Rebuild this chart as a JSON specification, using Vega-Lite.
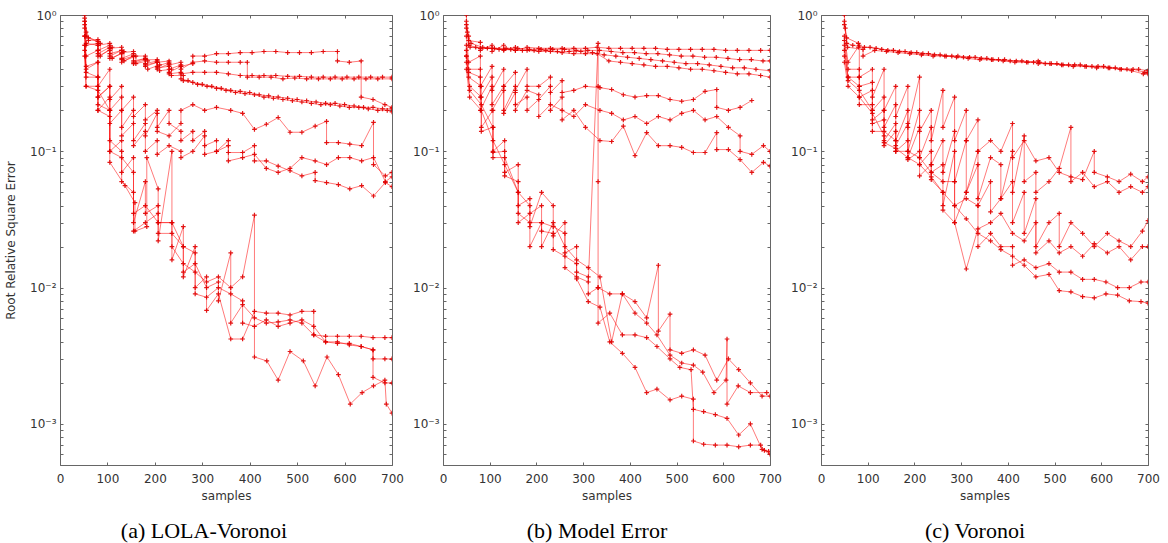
{
"$schema": "https://vega.github.io/schema/vega-lite/v6.json",
"padding": {"left": 4, "top": 8, "right": 4, "bottom": 2},
"spacing": 8,
"config": {
  "view": {"stroke": "#666", "strokeWidth": 1},
  "axis": {"grid": false, "domain": false, "tickColor": "#666", "tickSize": -3, "labelFont": "DejaVu Sans", "labelFontSize": 12, "labelColor": "#333", "titleFont": "DejaVu Sans", "titleFontSize": 12, "titleFontWeight": "normal", "titleColor": "#333"},
  "title": {"font": "Liberation Serif", "fontSize": 22, "fontWeight": "normal", "color": "#000"}
},
"datasets": {
"a": [
{"r":1,"x":52,"y":1},{"r":1,"x":55,"y":0.75},{"r":1,"x":60,"y":0.65},{"r":1,"x":80,"y":0.66},{"r":1,"x":80,"y":0.6},{"r":1,"x":105,"y":0.62},{"r":1,"x":105,"y":0.57},{"r":1,"x":130,"y":0.58},{"r":1,"x":130,"y":0.53},{"r":1,"x":155,"y":0.54},{"r":1,"x":155,"y":0.5},{"r":1,"x":180,"y":0.5},{"r":1,"x":180,"y":0.47},{"r":1,"x":205,"y":0.47},{"r":1,"x":205,"y":0.45},{"r":1,"x":230,"y":0.46},{"r":1,"x":230,"y":0.43},{"r":1,"x":255,"y":0.45},{"r":1,"x":255,"y":0.42},{"r":1,"x":280,"y":0.44},{"r":1,"x":280,"y":0.5},{"r":1,"x":305,"y":0.5},{"r":1,"x":330,"y":0.52},{"r":1,"x":355,"y":0.52},{"r":1,"x":380,"y":0.53},{"r":1,"x":405,"y":0.53},{"r":1,"x":430,"y":0.54},{"r":1,"x":455,"y":0.54},{"r":1,"x":480,"y":0.53},{"r":1,"x":505,"y":0.53},{"r":1,"x":530,"y":0.53},{"r":1,"x":555,"y":0.54},{"r":1,"x":585,"y":0.54},{"r":1,"x":585,"y":0.46},{"r":1,"x":610,"y":0.45},{"r":1,"x":635,"y":0.46},{"r":1,"x":635,"y":0.25},{"r":1,"x":660,"y":0.24},{"r":1,"x":685,"y":0.22},{"r":1,"x":700,"y":0.21},
{"r":2,"x":52,"y":0.9},{"r":2,"x":55,"y":0.62},{"r":2,"x":80,"y":0.6},{"r":2,"x":80,"y":0.5},{"r":2,"x":105,"y":0.55},{"r":2,"x":105,"y":0.48},{"r":2,"x":130,"y":0.52},{"r":2,"x":130,"y":0.45},{"r":2,"x":155,"y":0.5},{"r":2,"x":155,"y":0.44},{"r":2,"x":180,"y":0.47},{"r":2,"x":180,"y":0.42},{"r":2,"x":205,"y":0.45},{"r":2,"x":205,"y":0.4},{"r":2,"x":230,"y":0.44},{"r":2,"x":230,"y":0.38},{"r":2,"x":255,"y":0.42},{"r":2,"x":255,"y":0.37},{"r":2,"x":280,"y":0.38},{"r":2,"x":305,"y":0.38},{"r":2,"x":330,"y":0.38},{"r":2,"x":355,"y":0.37},{"r":2,"x":380,"y":0.36},{"r":2,"x":405,"y":0.36},{"r":2,"x":430,"y":0.36},{"r":2,"x":455,"y":0.36},{"r":2,"x":480,"y":0.355},{"r":2,"x":505,"y":0.355},{"r":2,"x":530,"y":0.35},{"r":2,"x":555,"y":0.35},{"r":2,"x":580,"y":0.35},{"r":2,"x":605,"y":0.35},{"r":2,"x":630,"y":0.35},{"r":2,"x":655,"y":0.35},{"r":2,"x":680,"y":0.35},{"r":2,"x":700,"y":0.35},
{"r":3,"x":52,"y":0.85},{"r":3,"x":55,"y":0.6},{"r":3,"x":80,"y":0.62},{"r":3,"x":80,"y":0.52},{"r":3,"x":105,"y":0.58},{"r":3,"x":105,"y":0.5},{"r":3,"x":130,"y":0.55},{"r":3,"x":130,"y":0.47},{"r":3,"x":155,"y":0.5},{"r":3,"x":155,"y":0.45},{"r":3,"x":180,"y":0.48},{"r":3,"x":180,"y":0.44},{"r":3,"x":205,"y":0.46},{"r":3,"x":205,"y":0.42},{"r":3,"x":230,"y":0.45},{"r":3,"x":230,"y":0.4},{"r":3,"x":255,"y":0.43},{"r":3,"x":255,"y":0.4},{"r":3,"x":280,"y":0.45},{"r":3,"x":305,"y":0.46},{"r":3,"x":330,"y":0.45},{"r":3,"x":355,"y":0.45},{"r":3,"x":380,"y":0.45},{"r":3,"x":395,"y":0.45},{"r":3,"x":395,"y":0.35},{"r":3,"x":420,"y":0.35},{"r":3,"x":445,"y":0.35},{"r":3,"x":470,"y":0.34},{"r":3,"x":495,"y":0.345},{"r":3,"x":520,"y":0.34},{"r":3,"x":545,"y":0.34},{"r":3,"x":570,"y":0.34},{"r":3,"x":595,"y":0.34},{"r":3,"x":620,"y":0.34},{"r":3,"x":645,"y":0.34},{"r":3,"x":670,"y":0.34},{"r":3,"x":700,"y":0.34},
{"r":4,"x":52,"y":0.95},{"r":4,"x":55,"y":0.7},{"r":4,"x":80,"y":0.64},{"r":4,"x":80,"y":0.55},{"r":4,"x":105,"y":0.6},{"r":4,"x":105,"y":0.52},{"r":4,"x":130,"y":0.55},{"r":4,"x":130,"y":0.48},{"r":4,"x":155,"y":0.52},{"r":4,"x":155,"y":0.46},{"r":4,"x":180,"y":0.48},{"r":4,"x":180,"y":0.43},{"r":4,"x":205,"y":0.45},{"r":4,"x":205,"y":0.41},{"r":4,"x":230,"y":0.42},{"r":4,"x":230,"y":0.37},{"r":4,"x":255,"y":0.38},{"r":4,"x":255,"y":0.34},{"r":4,"x":270,"y":0.33},{"r":4,"x":290,"y":0.31},{"r":4,"x":310,"y":0.3},{"r":4,"x":330,"y":0.29},{"r":4,"x":350,"y":0.28},{"r":4,"x":370,"y":0.27},{"r":4,"x":390,"y":0.265},{"r":4,"x":410,"y":0.26},{"r":4,"x":430,"y":0.25},{"r":4,"x":450,"y":0.245},{"r":4,"x":470,"y":0.24},{"r":4,"x":490,"y":0.235},{"r":4,"x":510,"y":0.23},{"r":4,"x":530,"y":0.225},{"r":4,"x":550,"y":0.22},{"r":4,"x":570,"y":0.22},{"r":4,"x":590,"y":0.215},{"r":4,"x":610,"y":0.21},{"r":4,"x":630,"y":0.21},{"r":4,"x":650,"y":0.205},{"r":4,"x":670,"y":0.2},{"r":4,"x":690,"y":0.2},{"r":4,"x":700,"y":0.195},
{"r":5,"x":52,"y":0.9},{"r":5,"x":60,"y":0.68},{"r":5,"x":85,"y":0.62},{"r":5,"x":85,"y":0.5},{"r":5,"x":110,"y":0.58},{"r":5,"x":110,"y":0.48},{"r":5,"x":135,"y":0.54},{"r":5,"x":135,"y":0.46},{"r":5,"x":160,"y":0.5},{"r":5,"x":160,"y":0.44},{"r":5,"x":185,"y":0.46},{"r":5,"x":185,"y":0.4},{"r":5,"x":210,"y":0.43},{"r":5,"x":210,"y":0.39},{"r":5,"x":235,"y":0.4},{"r":5,"x":235,"y":0.36},{"r":5,"x":260,"y":0.36},{"r":5,"x":260,"y":0.33},{"r":5,"x":280,"y":0.32},{"r":5,"x":300,"y":0.31},{"r":5,"x":320,"y":0.3},{"r":5,"x":340,"y":0.29},{"r":5,"x":360,"y":0.28},{"r":5,"x":380,"y":0.275},{"r":5,"x":400,"y":0.27},{"r":5,"x":420,"y":0.26},{"r":5,"x":440,"y":0.255},{"r":5,"x":460,"y":0.25},{"r":5,"x":480,"y":0.245},{"r":5,"x":500,"y":0.24},{"r":5,"x":520,"y":0.235},{"r":5,"x":540,"y":0.23},{"r":5,"x":560,"y":0.225},{"r":5,"x":580,"y":0.225},{"r":5,"x":600,"y":0.22},{"r":5,"x":620,"y":0.215},{"r":5,"x":640,"y":0.21},{"r":5,"x":660,"y":0.21},{"r":5,"x":680,"y":0.205},{"r":5,"x":700,"y":0.205},
{"r":6,"x":52,"y":0.8},{"r":6,"x":55,"y":0.5},{"r":6,"x":80,"y":0.55},{"r":6,"x":80,"y":0.3},{"r":6,"x":105,"y":0.4},{"r":6,"x":105,"y":0.24},{"r":6,"x":130,"y":0.3},{"r":6,"x":130,"y":0.2},{"r":6,"x":155,"y":0.25},{"r":6,"x":155,"y":0.18},{"r":6,"x":180,"y":0.22},{"r":6,"x":180,"y":0.17},{"r":6,"x":205,"y":0.2},{"r":6,"x":205,"y":0.14},{"r":6,"x":230,"y":0.13},{"r":6,"x":255,"y":0.16},{"r":6,"x":255,"y":0.2},{"r":6,"x":280,"y":0.22},{"r":6,"x":305,"y":0.2},{"r":6,"x":330,"y":0.21},{"r":6,"x":360,"y":0.2},{"r":6,"x":385,"y":0.19},{"r":6,"x":410,"y":0.145},{"r":6,"x":435,"y":0.158},{"r":6,"x":460,"y":0.177},{"r":6,"x":485,"y":0.138},{"r":6,"x":510,"y":0.138},{"r":6,"x":538,"y":0.153},{"r":6,"x":562,"y":0.166},{"r":6,"x":562,"y":0.116},{"r":6,"x":587,"y":0.116},{"r":6,"x":611,"y":0.113},{"r":6,"x":636,"y":0.11},{"r":6,"x":661,"y":0.163},{"r":6,"x":661,"y":0.08},{"r":6,"x":686,"y":0.066},{"r":6,"x":700,"y":0.07},
{"r":7,"x":52,"y":0.7},{"r":7,"x":55,"y":0.42},{"r":7,"x":80,"y":0.45},{"r":7,"x":80,"y":0.25},{"r":7,"x":105,"y":0.3},{"r":7,"x":105,"y":0.2},{"r":7,"x":130,"y":0.25},{"r":7,"x":130,"y":0.15},{"r":7,"x":155,"y":0.2},{"r":7,"x":155,"y":0.12},{"r":7,"x":180,"y":0.16},{"r":7,"x":180,"y":0.13},{"r":7,"x":205,"y":0.19},{"r":7,"x":205,"y":0.15},{"r":7,"x":230,"y":0.2},{"r":7,"x":230,"y":0.16},{"r":7,"x":255,"y":0.14},{"r":7,"x":255,"y":0.12},{"r":7,"x":280,"y":0.14},{"r":7,"x":280,"y":0.12},{"r":7,"x":305,"y":0.14},{"r":7,"x":305,"y":0.11},{"r":7,"x":330,"y":0.12},{"r":7,"x":330,"y":0.1},{"r":7,"x":355,"y":0.11},{"r":7,"x":355,"y":0.098},{"r":7,"x":385,"y":0.098},{"r":7,"x":410,"y":0.11},{"r":7,"x":410,"y":0.085},{"r":7,"x":435,"y":0.085},{"r":7,"x":460,"y":0.078},{"r":7,"x":485,"y":0.072},{"r":7,"x":510,"y":0.066},{"r":7,"x":538,"y":0.07},{"r":7,"x":538,"y":0.061},{"r":7,"x":562,"y":0.059},{"r":7,"x":587,"y":0.057},{"r":7,"x":611,"y":0.053},{"r":7,"x":636,"y":0.056},{"r":7,"x":661,"y":0.047},{"r":7,"x":686,"y":0.059},{"r":7,"x":700,"y":0.055},
{"r":8,"x":52,"y":0.6},{"r":8,"x":55,"y":0.38},{"r":8,"x":80,"y":0.35},{"r":8,"x":80,"y":0.2},{"r":8,"x":105,"y":0.25},{"r":8,"x":105,"y":0.16},{"r":8,"x":130,"y":0.2},{"r":8,"x":130,"y":0.13},{"r":8,"x":155,"y":0.16},{"r":8,"x":155,"y":0.11},{"r":8,"x":180,"y":0.14},{"r":8,"x":180,"y":0.1},{"r":8,"x":205,"y":0.12},{"r":8,"x":205,"y":0.095},{"r":8,"x":230,"y":0.11},{"r":8,"x":255,"y":0.1},{"r":8,"x":255,"y":0.09},{"r":8,"x":280,"y":0.1},{"r":8,"x":305,"y":0.13},{"r":8,"x":305,"y":0.095},{"r":8,"x":330,"y":0.1},{"r":8,"x":355,"y":0.12},{"r":8,"x":355,"y":0.085},{"r":8,"x":385,"y":0.09},{"r":8,"x":410,"y":0.095},{"r":8,"x":435,"y":0.075},{"r":8,"x":460,"y":0.07},{"r":8,"x":485,"y":0.075},{"r":8,"x":510,"y":0.09},{"r":8,"x":538,"y":0.085},{"r":8,"x":562,"y":0.08},{"r":8,"x":587,"y":0.09},{"r":8,"x":611,"y":0.09},{"r":8,"x":636,"y":0.085},{"r":8,"x":661,"y":0.09},{"r":8,"x":686,"y":0.06},{"r":8,"x":700,"y":0.065},
{"r":9,"x":52,"y":0.7},{"r":9,"x":55,"y":0.4},{"r":9,"x":80,"y":0.45},{"r":9,"x":80,"y":0.25},{"r":9,"x":105,"y":0.3},{"r":9,"x":105,"y":0.083},{"r":9,"x":137,"y":0.056},{"r":9,"x":158,"y":0.042},{"r":9,"x":158,"y":0.026},{"r":9,"x":183,"y":0.028},{"r":9,"x":183,"y":0.09},{"r":9,"x":207,"y":0.053},{"r":9,"x":207,"y":0.03},{"r":9,"x":236,"y":0.03},{"r":9,"x":236,"y":0.016},{"r":9,"x":260,"y":0.028},{"r":9,"x":260,"y":0.012},{"r":9,"x":285,"y":0.02},{"r":9,"x":285,"y":0.01},{"r":9,"x":309,"y":0.012},{"r":9,"x":309,"y":0.0068},{"r":9,"x":334,"y":0.009},{"r":9,"x":360,"y":0.0042},{"r":9,"x":385,"y":0.0042},{"r":9,"x":410,"y":0.0067},{"r":9,"x":435,"y":0.0065},{"r":9,"x":460,"y":0.0065},{"r":9,"x":485,"y":0.0063},{"r":9,"x":510,"y":0.0067},{"r":9,"x":535,"y":0.0067},{"r":9,"x":535,"y":0.0045},{"r":9,"x":560,"y":0.0044},{"r":9,"x":585,"y":0.0044},{"r":9,"x":610,"y":0.0044},{"r":9,"x":635,"y":0.0044},{"r":9,"x":660,"y":0.0043},{"r":9,"x":685,"y":0.0043},{"r":9,"x":700,"y":0.0043},
{"r":10,"x":52,"y":0.6},{"r":10,"x":55,"y":0.35},{"r":10,"x":80,"y":0.35},{"r":10,"x":80,"y":0.22},{"r":10,"x":105,"y":0.2},{"r":10,"x":105,"y":0.1},{"r":10,"x":130,"y":0.12},{"r":10,"x":130,"y":0.07},{"r":10,"x":155,"y":0.09},{"r":10,"x":155,"y":0.03},{"r":10,"x":180,"y":0.06},{"r":10,"x":180,"y":0.035},{"r":10,"x":207,"y":0.04},{"r":10,"x":207,"y":0.022},{"r":10,"x":236,"y":0.1},{"r":10,"x":236,"y":0.02},{"r":10,"x":260,"y":0.015},{"r":10,"x":285,"y":0.013},{"r":10,"x":309,"y":0.011},{"r":10,"x":334,"y":0.012},{"r":10,"x":360,"y":0.01},{"r":10,"x":385,"y":0.012},{"r":10,"x":410,"y":0.034},{"r":10,"x":410,"y":0.0031},{"r":10,"x":436,"y":0.0029},{"r":10,"x":460,"y":0.0021},{"r":10,"x":485,"y":0.0034},{"r":10,"x":513,"y":0.0029},{"r":10,"x":538,"y":0.0019},{"r":10,"x":563,"y":0.0031},{"r":10,"x":587,"y":0.0023},{"r":10,"x":612,"y":0.0014},{"r":10,"x":637,"y":0.0017},{"r":10,"x":661,"y":0.0019},{"r":10,"x":685,"y":0.0021},{"r":10,"x":688,"y":0.0014},{"r":10,"x":700,"y":0.0012},
{"r":11,"x":52,"y":0.55},{"r":11,"x":55,"y":0.3},{"r":11,"x":80,"y":0.3},{"r":11,"x":80,"y":0.2},{"r":11,"x":105,"y":0.18},{"r":11,"x":105,"y":0.12},{"r":11,"x":130,"y":0.1},{"r":11,"x":130,"y":0.06},{"r":11,"x":155,"y":0.05},{"r":11,"x":155,"y":0.026},{"r":11,"x":180,"y":0.03},{"r":11,"x":207,"y":0.035},{"r":11,"x":207,"y":0.025},{"r":11,"x":236,"y":0.025},{"r":11,"x":260,"y":0.02},{"r":11,"x":260,"y":0.013},{"r":11,"x":285,"y":0.015},{"r":11,"x":309,"y":0.01},{"r":11,"x":334,"y":0.011},{"r":11,"x":334,"y":0.008},{"r":11,"x":360,"y":0.018},{"r":11,"x":360,"y":0.0055},{"r":11,"x":385,"y":0.0075},{"r":11,"x":410,"y":0.006},{"r":11,"x":435,"y":0.0055},{"r":11,"x":460,"y":0.0056},{"r":11,"x":485,"y":0.0058},{"r":11,"x":510,"y":0.0055},{"r":11,"x":535,"y":0.0045},{"r":11,"x":560,"y":0.004},{"r":11,"x":585,"y":0.004},{"r":11,"x":610,"y":0.0038},{"r":11,"x":635,"y":0.0037},{"r":11,"x":660,"y":0.0035},{"r":11,"x":660,"y":0.003},{"r":11,"x":685,"y":0.003},{"r":11,"x":700,"y":0.003},
{"r":12,"x":52,"y":0.5},{"r":12,"x":55,"y":0.3},{"r":12,"x":80,"y":0.28},{"r":12,"x":105,"y":0.2},{"r":12,"x":105,"y":0.1},{"r":12,"x":130,"y":0.09},{"r":12,"x":155,"y":0.07},{"r":12,"x":155,"y":0.035},{"r":12,"x":180,"y":0.04},{"r":12,"x":207,"y":0.03},{"r":12,"x":236,"y":0.03},{"r":12,"x":260,"y":0.02},{"r":12,"x":285,"y":0.018},{"r":12,"x":285,"y":0.009},{"r":12,"x":309,"y":0.0085},{"r":12,"x":334,"y":0.01},{"r":12,"x":360,"y":0.009},{"r":12,"x":385,"y":0.008},{"r":12,"x":385,"y":0.0055},{"r":12,"x":410,"y":0.0052},{"r":12,"x":435,"y":0.0058},{"r":12,"x":460,"y":0.0052},{"r":12,"x":485,"y":0.0055},{"r":12,"x":510,"y":0.0058},{"r":12,"x":535,"y":0.0052},{"r":12,"x":560,"y":0.004},{"r":12,"x":585,"y":0.0039},{"r":12,"x":610,"y":0.0039},{"r":12,"x":635,"y":0.0037},{"r":12,"x":660,"y":0.0035},{"r":12,"x":660,"y":0.0022},{"r":12,"x":685,"y":0.002},{"r":12,"x":700,"y":0.002}
],
"b": [
{"r":1,"x":50,"y":1},{"r":1,"x":52,"y":0.75},{"r":1,"x":55,"y":0.65},{"r":1,"x":80,"y":0.63},{"r":1,"x":80,"y":0.55},{"r":1,"x":105,"y":0.6},{"r":1,"x":105,"y":0.54},{"r":1,"x":130,"y":0.6},{"r":1,"x":130,"y":0.55},{"r":1,"x":155,"y":0.58},{"r":1,"x":155,"y":0.55},{"r":1,"x":180,"y":0.58},{"r":1,"x":205,"y":0.57},{"r":1,"x":230,"y":0.57},{"r":1,"x":255,"y":0.57},{"r":1,"x":280,"y":0.57},{"r":1,"x":305,"y":0.57},{"r":1,"x":330,"y":0.58},{"r":1,"x":355,"y":0.57},{"r":1,"x":380,"y":0.57},{"r":1,"x":405,"y":0.57},{"r":1,"x":430,"y":0.57},{"r":1,"x":455,"y":0.57},{"r":1,"x":480,"y":0.56},{"r":1,"x":505,"y":0.56},{"r":1,"x":530,"y":0.56},{"r":1,"x":555,"y":0.56},{"r":1,"x":580,"y":0.56},{"r":1,"x":605,"y":0.55},{"r":1,"x":630,"y":0.55},{"r":1,"x":655,"y":0.55},{"r":1,"x":680,"y":0.55},{"r":1,"x":700,"y":0.55},
{"r":2,"x":50,"y":0.9},{"r":2,"x":55,"y":0.7},{"r":2,"x":60,"y":0.62},{"r":2,"x":85,"y":0.58},{"r":2,"x":110,"y":0.57},{"r":2,"x":135,"y":0.57},{"r":2,"x":160,"y":0.57},{"r":2,"x":185,"y":0.56},{"r":2,"x":210,"y":0.56},{"r":2,"x":235,"y":0.56},{"r":2,"x":260,"y":0.56},{"r":2,"x":285,"y":0.55},{"r":2,"x":310,"y":0.55},{"r":2,"x":335,"y":0.55},{"r":2,"x":360,"y":0.54},{"r":2,"x":385,"y":0.53},{"r":2,"x":410,"y":0.53},{"r":2,"x":435,"y":0.52},{"r":2,"x":460,"y":0.52},{"r":2,"x":485,"y":0.51},{"r":2,"x":510,"y":0.5},{"r":2,"x":535,"y":0.5},{"r":2,"x":560,"y":0.49},{"r":2,"x":585,"y":0.49},{"r":2,"x":610,"y":0.48},{"r":2,"x":635,"y":0.47},{"r":2,"x":660,"y":0.47},{"r":2,"x":685,"y":0.46},{"r":2,"x":700,"y":0.46},
{"r":3,"x":50,"y":0.85},{"r":3,"x":55,"y":0.6},{"r":3,"x":70,"y":0.58},{"r":3,"x":95,"y":0.57},{"r":3,"x":120,"y":0.56},{"r":3,"x":145,"y":0.56},{"r":3,"x":170,"y":0.55},{"r":3,"x":195,"y":0.55},{"r":3,"x":220,"y":0.55},{"r":3,"x":245,"y":0.54},{"r":3,"x":270,"y":0.54},{"r":3,"x":295,"y":0.54},{"r":3,"x":320,"y":0.53},{"r":3,"x":345,"y":0.51},{"r":3,"x":370,"y":0.5},{"r":3,"x":395,"y":0.49},{"r":3,"x":420,"y":0.48},{"r":3,"x":445,"y":0.47},{"r":3,"x":470,"y":0.46},{"r":3,"x":495,"y":0.45},{"r":3,"x":520,"y":0.44},{"r":3,"x":545,"y":0.44},{"r":3,"x":570,"y":0.43},{"r":3,"x":595,"y":0.42},{"r":3,"x":620,"y":0.41},{"r":3,"x":645,"y":0.41},{"r":3,"x":670,"y":0.4},{"r":3,"x":700,"y":0.39},
{"r":4,"x":50,"y":0.8},{"r":4,"x":58,"y":0.58},{"r":4,"x":80,"y":0.57},{"r":4,"x":105,"y":0.57},{"r":4,"x":130,"y":0.56},{"r":4,"x":155,"y":0.55},{"r":4,"x":180,"y":0.55},{"r":4,"x":205,"y":0.54},{"r":4,"x":230,"y":0.54},{"r":4,"x":255,"y":0.53},{"r":4,"x":280,"y":0.52},{"r":4,"x":305,"y":0.52},{"r":4,"x":330,"y":0.52},{"r":4,"x":355,"y":0.46},{"r":4,"x":380,"y":0.45},{"r":4,"x":405,"y":0.44},{"r":4,"x":430,"y":0.43},{"r":4,"x":455,"y":0.42},{"r":4,"x":480,"y":0.42},{"r":4,"x":505,"y":0.41},{"r":4,"x":530,"y":0.4},{"r":4,"x":555,"y":0.4},{"r":4,"x":580,"y":0.39},{"r":4,"x":605,"y":0.38},{"r":4,"x":630,"y":0.37},{"r":4,"x":655,"y":0.37},{"r":4,"x":680,"y":0.36},{"r":4,"x":700,"y":0.35},
{"r":5,"x":50,"y":0.7},{"r":5,"x":55,"y":0.45},{"r":5,"x":80,"y":0.5},{"r":5,"x":80,"y":0.3},{"r":5,"x":105,"y":0.42},{"r":5,"x":105,"y":0.28},{"r":5,"x":130,"y":0.4},{"r":5,"x":130,"y":0.3},{"r":5,"x":155,"y":0.38},{"r":5,"x":155,"y":0.28},{"r":5,"x":180,"y":0.4},{"r":5,"x":180,"y":0.3},{"r":5,"x":205,"y":0.3},{"r":5,"x":230,"y":0.35},{"r":5,"x":230,"y":0.27},{"r":5,"x":255,"y":0.33},{"r":5,"x":255,"y":0.27},{"r":5,"x":280,"y":0.28},{"r":5,"x":305,"y":0.3},{"r":5,"x":336,"y":0.293},{"r":5,"x":361,"y":0.284},{"r":5,"x":386,"y":0.26},{"r":5,"x":411,"y":0.25},{"r":5,"x":436,"y":0.256},{"r":5,"x":461,"y":0.256},{"r":5,"x":486,"y":0.24},{"r":5,"x":511,"y":0.233},{"r":5,"x":536,"y":0.24},{"r":5,"x":561,"y":0.275},{"r":5,"x":586,"y":0.284},{"r":5,"x":586,"y":0.21},{"r":5,"x":611,"y":0.2},{"r":5,"x":636,"y":0.21},{"r":5,"x":661,"y":0.236},
{"r":6,"x":50,"y":0.6},{"r":6,"x":55,"y":0.4},{"r":6,"x":80,"y":0.4},{"r":6,"x":80,"y":0.25},{"r":6,"x":105,"y":0.35},{"r":6,"x":105,"y":0.22},{"r":6,"x":130,"y":0.3},{"r":6,"x":130,"y":0.2},{"r":6,"x":155,"y":0.3},{"r":6,"x":155,"y":0.22},{"r":6,"x":180,"y":0.25},{"r":6,"x":180,"y":0.2},{"r":6,"x":205,"y":0.24},{"r":6,"x":230,"y":0.3},{"r":6,"x":230,"y":0.2},{"r":6,"x":255,"y":0.25},{"r":6,"x":255,"y":0.17},{"r":6,"x":280,"y":0.2},{"r":6,"x":305,"y":0.15},{"r":6,"x":336,"y":0.12},{"r":6,"x":361,"y":0.118},{"r":6,"x":386,"y":0.153},{"r":6,"x":411,"y":0.093},{"r":6,"x":436,"y":0.137},{"r":6,"x":461,"y":0.11},{"r":6,"x":486,"y":0.11},{"r":6,"x":511,"y":0.107},{"r":6,"x":536,"y":0.098},{"r":6,"x":561,"y":0.098},{"r":6,"x":586,"y":0.137},{"r":6,"x":586,"y":0.103},{"r":6,"x":611,"y":0.103},{"r":6,"x":636,"y":0.087},{"r":6,"x":661,"y":0.07},{"r":6,"x":686,"y":0.083},{"r":6,"x":700,"y":0.078},
{"r":7,"x":50,"y":0.55},{"r":7,"x":55,"y":0.38},{"r":7,"x":80,"y":0.35},{"r":7,"x":80,"y":0.2},{"r":7,"x":105,"y":0.3},{"r":7,"x":105,"y":0.2},{"r":7,"x":130,"y":0.28},{"r":7,"x":130,"y":0.19},{"r":7,"x":155,"y":0.27},{"r":7,"x":155,"y":0.2},{"r":7,"x":180,"y":0.28},{"r":7,"x":205,"y":0.26},{"r":7,"x":205,"y":0.18},{"r":7,"x":230,"y":0.22},{"r":7,"x":255,"y":0.2},{"r":7,"x":280,"y":0.18},{"r":7,"x":305,"y":0.22},{"r":7,"x":336,"y":0.2},{"r":7,"x":361,"y":0.19},{"r":7,"x":386,"y":0.17},{"r":7,"x":411,"y":0.18},{"r":7,"x":436,"y":0.16},{"r":7,"x":461,"y":0.18},{"r":7,"x":486,"y":0.17},{"r":7,"x":511,"y":0.19},{"r":7,"x":536,"y":0.2},{"r":7,"x":561,"y":0.17},{"r":7,"x":586,"y":0.18},{"r":7,"x":611,"y":0.15},{"r":7,"x":636,"y":0.13},{"r":7,"x":636,"y":0.1},{"r":7,"x":661,"y":0.095},{"r":7,"x":686,"y":0.11},{"r":7,"x":700,"y":0.1},
{"r":8,"x":50,"y":0.5},{"r":8,"x":55,"y":0.35},{"r":8,"x":82,"y":0.3},{"r":8,"x":82,"y":0.15},{"r":8,"x":107,"y":0.2},{"r":8,"x":107,"y":0.098},{"r":8,"x":132,"y":0.1},{"r":8,"x":132,"y":0.066},{"r":8,"x":161,"y":0.06},{"r":8,"x":161,"y":0.03},{"r":8,"x":186,"y":0.035},{"r":8,"x":211,"y":0.04},{"r":8,"x":211,"y":0.026},{"r":8,"x":236,"y":0.025},{"r":8,"x":236,"y":0.019},{"r":8,"x":261,"y":0.017},{"r":8,"x":286,"y":0.015},{"r":8,"x":286,"y":0.0116},{"r":8,"x":311,"y":0.0079},{"r":8,"x":336,"y":0.0072},{"r":8,"x":357,"y":0.004},{"r":8,"x":384,"y":0.0033},{"r":8,"x":411,"y":0.0026},{"r":8,"x":436,"y":0.0017},{"r":8,"x":458,"y":0.0018},{"r":8,"x":486,"y":0.0015},{"r":8,"x":511,"y":0.0016},{"r":8,"x":536,"y":0.00152},{"r":8,"x":536,"y":0.00075},{"r":8,"x":558,"y":0.00071},{"r":8,"x":583,"y":0.0007},{"r":8,"x":608,"y":0.0007},{"r":8,"x":633,"y":0.00068},{"r":8,"x":658,"y":0.0007},{"r":8,"x":680,"y":0.0007},{"r":8,"x":688,"y":0.00064},{"r":8,"x":697,"y":0.00063},
{"r":9,"x":50,"y":0.5},{"r":9,"x":57,"y":0.3},{"r":9,"x":82,"y":0.25},{"r":9,"x":82,"y":0.14},{"r":9,"x":107,"y":0.15},{"r":9,"x":107,"y":0.1},{"r":9,"x":132,"y":0.12},{"r":9,"x":132,"y":0.07},{"r":9,"x":161,"y":0.08},{"r":9,"x":161,"y":0.04},{"r":9,"x":186,"y":0.045},{"r":9,"x":186,"y":0.028},{"r":9,"x":211,"y":0.05},{"r":9,"x":236,"y":0.04},{"r":9,"x":236,"y":0.024},{"r":9,"x":261,"y":0.03},{"r":9,"x":261,"y":0.018},{"r":9,"x":286,"y":0.02},{"r":9,"x":286,"y":0.013},{"r":9,"x":311,"y":0.012},{"r":9,"x":311,"y":0.009},{"r":9,"x":332,"y":0.01},{"r":9,"x":332,"y":0.0055},{"r":9,"x":357,"y":0.0065},{"r":9,"x":384,"y":0.0045},{"r":9,"x":411,"y":0.0045},{"r":9,"x":436,"y":0.0043},{"r":9,"x":458,"y":0.0037},{"r":9,"x":486,"y":0.003},{"r":9,"x":507,"y":0.0026},{"r":9,"x":531,"y":0.0025},{"r":9,"x":536,"y":0.00128},{"r":9,"x":558,"y":0.00123},{"r":9,"x":583,"y":0.00117},{"r":9,"x":608,"y":0.0011},{"r":9,"x":633,"y":0.00083},{"r":9,"x":658,"y":0.001},{"r":9,"x":683,"y":0.00065},{"r":9,"x":700,"y":0.0006},
{"r":10,"x":50,"y":0.45},{"r":10,"x":57,"y":0.28},{"r":10,"x":82,"y":0.22},{"r":10,"x":107,"y":0.15},{"r":10,"x":107,"y":0.09},{"r":10,"x":132,"y":0.09},{"r":10,"x":161,"y":0.05},{"r":10,"x":161,"y":0.035},{"r":10,"x":186,"y":0.03},{"r":10,"x":211,"y":0.03},{"r":10,"x":236,"y":0.028},{"r":10,"x":261,"y":0.025},{"r":10,"x":261,"y":0.014},{"r":10,"x":286,"y":0.012},{"r":10,"x":311,"y":0.011},{"r":10,"x":332,"y":0.62},{"r":10,"x":332,"y":0.3},{"r":10,"x":332,"y":0.06},{"r":10,"x":332,"y":0.01},{"r":10,"x":357,"y":0.009},{"r":10,"x":384,"y":0.009},{"r":10,"x":411,"y":0.0065},{"r":10,"x":436,"y":0.0055},{"r":10,"x":458,"y":0.0045},{"r":10,"x":486,"y":0.0032},{"r":10,"x":511,"y":0.0028},{"r":10,"x":536,"y":0.0027},{"r":10,"x":556,"y":0.0024},{"r":10,"x":580,"y":0.0017},{"r":10,"x":606,"y":0.0021},{"r":10,"x":608,"y":0.0042},{"r":10,"x":608,"y":0.0014},{"r":10,"x":632,"y":0.0019},{"r":10,"x":658,"y":0.0017},{"r":10,"x":693,"y":0.0017},
{"r":11,"x":50,"y":0.4},{"r":11,"x":57,"y":0.25},{"r":11,"x":82,"y":0.2},{"r":11,"x":107,"y":0.12},{"r":11,"x":132,"y":0.08},{"r":11,"x":161,"y":0.05},{"r":11,"x":186,"y":0.04},{"r":11,"x":186,"y":0.02},{"r":11,"x":211,"y":0.03},{"r":11,"x":211,"y":0.02},{"r":11,"x":236,"y":0.03},{"r":11,"x":261,"y":0.02},{"r":11,"x":286,"y":0.016},{"r":11,"x":311,"y":0.014},{"r":11,"x":336,"y":0.012},{"r":11,"x":361,"y":0.004},{"r":11,"x":384,"y":0.009},{"r":11,"x":411,"y":0.0079},{"r":11,"x":436,"y":0.006},{"r":11,"x":461,"y":0.0146},{"r":11,"x":461,"y":0.0048},{"r":11,"x":486,"y":0.0064},{"r":11,"x":486,"y":0.0035},{"r":11,"x":511,"y":0.0033},{"r":11,"x":536,"y":0.0035},{"r":11,"x":561,"y":0.0032},{"r":11,"x":586,"y":0.0021},{"r":11,"x":611,"y":0.003},{"r":11,"x":633,"y":0.0025},{"r":11,"x":658,"y":0.002},{"r":11,"x":683,"y":0.0016},{"r":11,"x":700,"y":0.0016}
],
"c": [
{"r":1,"x":50,"y":1},{"r":1,"x":52,"y":0.8},{"r":1,"x":55,"y":0.68},{"r":1,"x":80,"y":0.62},{"r":1,"x":80,"y":0.58},{"r":1,"x":105,"y":0.58},{"r":1,"x":130,"y":0.56},{"r":1,"x":155,"y":0.55},{"r":1,"x":180,"y":0.54},{"r":1,"x":205,"y":0.53},{"r":1,"x":230,"y":0.52},{"r":1,"x":255,"y":0.51},{"r":1,"x":280,"y":0.5},{"r":1,"x":305,"y":0.49},{"r":1,"x":330,"y":0.49},{"r":1,"x":355,"y":0.48},{"r":1,"x":380,"y":0.47},{"r":1,"x":405,"y":0.46},{"r":1,"x":430,"y":0.46},{"r":1,"x":455,"y":0.45},{"r":1,"x":480,"y":0.44},{"r":1,"x":505,"y":0.44},{"r":1,"x":530,"y":0.43},{"r":1,"x":555,"y":0.43},{"r":1,"x":580,"y":0.42},{"r":1,"x":605,"y":0.42},{"r":1,"x":630,"y":0.41},{"r":1,"x":655,"y":0.4},{"r":1,"x":680,"y":0.4},{"r":1,"x":700,"y":0.39},
{"r":2,"x":50,"y":0.9},{"r":2,"x":55,"y":0.62},{"r":2,"x":68,"y":0.6},{"r":2,"x":93,"y":0.58},{"r":2,"x":118,"y":0.57},{"r":2,"x":143,"y":0.55},{"r":2,"x":168,"y":0.54},{"r":2,"x":193,"y":0.53},{"r":2,"x":218,"y":0.52},{"r":2,"x":243,"y":0.51},{"r":2,"x":268,"y":0.5},{"r":2,"x":293,"y":0.5},{"r":2,"x":318,"y":0.49},{"r":2,"x":343,"y":0.48},{"r":2,"x":368,"y":0.47},{"r":2,"x":393,"y":0.47},{"r":2,"x":418,"y":0.46},{"r":2,"x":443,"y":0.45},{"r":2,"x":468,"y":0.45},{"r":2,"x":493,"y":0.44},{"r":2,"x":518,"y":0.43},{"r":2,"x":543,"y":0.43},{"r":2,"x":568,"y":0.42},{"r":2,"x":593,"y":0.42},{"r":2,"x":618,"y":0.41},{"r":2,"x":643,"y":0.4},{"r":2,"x":668,"y":0.4},{"r":2,"x":693,"y":0.38},{"r":2,"x":700,"y":0.37},
{"r":3,"x":50,"y":0.85},{"r":3,"x":57,"y":0.58},{"r":3,"x":90,"y":0.56},{"r":3,"x":90,"y":0.5},{"r":3,"x":115,"y":0.55},{"r":3,"x":140,"y":0.54},{"r":3,"x":165,"y":0.53},{"r":3,"x":190,"y":0.52},{"r":3,"x":215,"y":0.51},{"r":3,"x":240,"y":0.5},{"r":3,"x":265,"y":0.5},{"r":3,"x":290,"y":0.49},{"r":3,"x":315,"y":0.48},{"r":3,"x":340,"y":0.47},{"r":3,"x":365,"y":0.47},{"r":3,"x":390,"y":0.46},{"r":3,"x":415,"y":0.45},{"r":3,"x":440,"y":0.45},{"r":3,"x":465,"y":0.46},{"r":3,"x":465,"y":0.44},{"r":3,"x":490,"y":0.44},{"r":3,"x":515,"y":0.43},{"r":3,"x":540,"y":0.42},{"r":3,"x":565,"y":0.42},{"r":3,"x":590,"y":0.41},{"r":3,"x":615,"y":0.41},{"r":3,"x":640,"y":0.4},{"r":3,"x":665,"y":0.39},{"r":3,"x":690,"y":0.37},{"r":3,"x":700,"y":0.38},
{"r":4,"x":50,"y":0.7},{"r":4,"x":58,"y":0.45},{"r":4,"x":82,"y":0.6},{"r":4,"x":82,"y":0.35},{"r":4,"x":110,"y":0.4},{"r":4,"x":110,"y":0.25},{"r":4,"x":135,"y":0.4},{"r":4,"x":135,"y":0.2},{"r":4,"x":160,"y":0.3},{"r":4,"x":160,"y":0.18},{"r":4,"x":186,"y":0.3},{"r":4,"x":186,"y":0.15},{"r":4,"x":211,"y":0.35},{"r":4,"x":211,"y":0.14},{"r":4,"x":236,"y":0.2},{"r":4,"x":236,"y":0.12},{"r":4,"x":261,"y":0.28},{"r":4,"x":261,"y":0.15},{"r":4,"x":286,"y":0.25},{"r":4,"x":286,"y":0.12},{"r":4,"x":311,"y":0.2},{"r":4,"x":311,"y":0.12},{"r":4,"x":336,"y":0.17},{"r":4,"x":336,"y":0.1},{"r":4,"x":363,"y":0.12},{"r":4,"x":385,"y":0.1},{"r":4,"x":410,"y":0.16},{"r":4,"x":410,"y":0.09},{"r":4,"x":435,"y":0.12},{"r":4,"x":460,"y":0.085},{"r":4,"x":488,"y":0.09},{"r":4,"x":510,"y":0.07},{"r":4,"x":535,"y":0.065},{"r":4,"x":560,"y":0.062},{"r":4,"x":585,"y":0.1},{"r":4,"x":585,"y":0.07},{"r":4,"x":613,"y":0.065},{"r":4,"x":638,"y":0.06},{"r":4,"x":663,"y":0.068},{"r":4,"x":688,"y":0.06},{"r":4,"x":700,"y":0.065},
{"r":5,"x":50,"y":0.65},{"r":5,"x":58,"y":0.4},{"r":5,"x":82,"y":0.4},{"r":5,"x":82,"y":0.3},{"r":5,"x":110,"y":0.32},{"r":5,"x":110,"y":0.2},{"r":5,"x":135,"y":0.25},{"r":5,"x":135,"y":0.15},{"r":5,"x":160,"y":0.22},{"r":5,"x":160,"y":0.12},{"r":5,"x":186,"y":0.2},{"r":5,"x":186,"y":0.1},{"r":5,"x":211,"y":0.2},{"r":5,"x":211,"y":0.09},{"r":5,"x":236,"y":0.15},{"r":5,"x":236,"y":0.08},{"r":5,"x":261,"y":0.12},{"r":5,"x":261,"y":0.07},{"r":5,"x":286,"y":0.14},{"r":5,"x":286,"y":0.06},{"r":5,"x":311,"y":0.12},{"r":5,"x":311,"y":0.05},{"r":5,"x":336,"y":0.1},{"r":5,"x":336,"y":0.045},{"r":5,"x":363,"y":0.09},{"r":5,"x":385,"y":0.08},{"r":5,"x":385,"y":0.045},{"r":5,"x":410,"y":0.1},{"r":5,"x":410,"y":0.05},{"r":5,"x":435,"y":0.13},{"r":5,"x":435,"y":0.06},{"r":5,"x":460,"y":0.07},{"r":5,"x":460,"y":0.05},{"r":5,"x":488,"y":0.06},{"r":5,"x":510,"y":0.075},{"r":5,"x":535,"y":0.15},{"r":5,"x":535,"y":0.06},{"r":5,"x":560,"y":0.07},{"r":5,"x":585,"y":0.055},{"r":5,"x":613,"y":0.06},{"r":5,"x":638,"y":0.05},{"r":5,"x":663,"y":0.055},{"r":5,"x":688,"y":0.05},{"r":5,"x":700,"y":0.055},
{"r":6,"x":50,"y":0.6},{"r":6,"x":58,"y":0.35},{"r":6,"x":82,"y":0.35},{"r":6,"x":82,"y":0.25},{"r":6,"x":110,"y":0.28},{"r":6,"x":110,"y":0.17},{"r":6,"x":135,"y":0.2},{"r":6,"x":135,"y":0.12},{"r":6,"x":160,"y":0.16},{"r":6,"x":160,"y":0.11},{"r":6,"x":186,"y":0.16},{"r":6,"x":186,"y":0.09},{"r":6,"x":211,"y":0.15},{"r":6,"x":211,"y":0.08},{"r":6,"x":236,"y":0.1},{"r":6,"x":236,"y":0.07},{"r":6,"x":261,"y":0.08},{"r":6,"x":261,"y":0.04},{"r":6,"x":286,"y":0.1},{"r":6,"x":286,"y":0.03},{"r":6,"x":311,"y":0.05},{"r":6,"x":336,"y":0.08},{"r":6,"x":336,"y":0.04},{"r":6,"x":363,"y":0.06},{"r":6,"x":363,"y":0.036},{"r":6,"x":385,"y":0.045},{"r":6,"x":410,"y":0.06},{"r":6,"x":410,"y":0.03},{"r":6,"x":435,"y":0.05},{"r":6,"x":435,"y":0.025},{"r":6,"x":460,"y":0.045},{"r":6,"x":460,"y":0.02},{"r":6,"x":488,"y":0.03},{"r":6,"x":510,"y":0.035},{"r":6,"x":510,"y":0.02},{"r":6,"x":535,"y":0.03},{"r":6,"x":560,"y":0.025},{"r":6,"x":585,"y":0.02},{"r":6,"x":613,"y":0.025},{"r":6,"x":638,"y":0.022},{"r":6,"x":663,"y":0.02},{"r":6,"x":688,"y":0.026},{"r":6,"x":700,"y":0.031},
{"r":7,"x":50,"y":0.55},{"r":7,"x":58,"y":0.35},{"r":7,"x":82,"y":0.3},{"r":7,"x":82,"y":0.22},{"r":7,"x":110,"y":0.22},{"r":7,"x":110,"y":0.16},{"r":7,"x":135,"y":0.17},{"r":7,"x":135,"y":0.11},{"r":7,"x":160,"y":0.14},{"r":7,"x":160,"y":0.1},{"r":7,"x":186,"y":0.12},{"r":7,"x":186,"y":0.087},{"r":7,"x":211,"y":0.1},{"r":7,"x":211,"y":0.066},{"r":7,"x":236,"y":0.08},{"r":7,"x":236,"y":0.062},{"r":7,"x":261,"y":0.05},{"r":7,"x":261,"y":0.037},{"r":7,"x":286,"y":0.03},{"r":7,"x":311,"y":0.0137},{"r":7,"x":336,"y":0.027},{"r":7,"x":363,"y":0.03},{"r":7,"x":385,"y":0.035},{"r":7,"x":410,"y":0.025},{"r":7,"x":435,"y":0.022},{"r":7,"x":460,"y":0.03},{"r":7,"x":460,"y":0.018},{"r":7,"x":488,"y":0.022},{"r":7,"x":510,"y":0.018},{"r":7,"x":535,"y":0.02},{"r":7,"x":560,"y":0.017},{"r":7,"x":585,"y":0.021},{"r":7,"x":613,"y":0.018},{"r":7,"x":638,"y":0.02},{"r":7,"x":663,"y":0.016},{"r":7,"x":688,"y":0.02},{"r":7,"x":700,"y":0.02},
{"r":8,"x":50,"y":0.5},{"r":8,"x":58,"y":0.33},{"r":8,"x":82,"y":0.28},{"r":8,"x":110,"y":0.2},{"r":8,"x":110,"y":0.14},{"r":8,"x":135,"y":0.14},{"r":8,"x":160,"y":0.12},{"r":8,"x":160,"y":0.1},{"r":8,"x":186,"y":0.1},{"r":8,"x":211,"y":0.09},{"r":8,"x":236,"y":0.07},{"r":8,"x":261,"y":0.06},{"r":8,"x":286,"y":0.06},{"r":8,"x":286,"y":0.04},{"r":8,"x":311,"y":0.045},{"r":8,"x":336,"y":0.04},{"r":8,"x":336,"y":0.02},{"r":8,"x":363,"y":0.025},{"r":8,"x":385,"y":0.02},{"r":8,"x":410,"y":0.02},{"r":8,"x":410,"y":0.0146},{"r":8,"x":435,"y":0.016},{"r":8,"x":460,"y":0.014},{"r":8,"x":488,"y":0.015},{"r":8,"x":510,"y":0.013},{"r":8,"x":535,"y":0.013},{"r":8,"x":560,"y":0.0115},{"r":8,"x":585,"y":0.0115},{"r":8,"x":610,"y":0.011},{"r":8,"x":635,"y":0.01},{"r":8,"x":660,"y":0.01},{"r":8,"x":685,"y":0.011},{"r":8,"x":700,"y":0.011},
{"r":9,"x":50,"y":0.45},{"r":9,"x":58,"y":0.3},{"r":9,"x":82,"y":0.25},{"r":9,"x":110,"y":0.19},{"r":9,"x":135,"y":0.13},{"r":9,"x":135,"y":0.116},{"r":9,"x":160,"y":0.105},{"r":9,"x":186,"y":0.09},{"r":9,"x":211,"y":0.08},{"r":9,"x":236,"y":0.065},{"r":9,"x":261,"y":0.05},{"r":9,"x":286,"y":0.04},{"r":9,"x":311,"y":0.032},{"r":9,"x":336,"y":0.025},{"r":9,"x":363,"y":0.022},{"r":9,"x":385,"y":0.019},{"r":9,"x":410,"y":0.017},{"r":9,"x":435,"y":0.0146},{"r":9,"x":460,"y":0.012},{"r":9,"x":488,"y":0.0125},{"r":9,"x":510,"y":0.0095},{"r":9,"x":535,"y":0.0093},{"r":9,"x":560,"y":0.0086},{"r":9,"x":585,"y":0.0084},{"r":9,"x":610,"y":0.009},{"r":9,"x":635,"y":0.0088},{"r":9,"x":660,"y":0.008},{"r":9,"x":685,"y":0.0079},{"r":9,"x":700,"y":0.0077}
]
},
"hconcat": [
{
  "width": 332, "height": 450,
  "title": {"text": "(a)  LOLA-Voronoi", "orient": "bottom", "anchor": "middle", "frame": "bounds", "offset": 20},
  "data": {"name": "a"},
  "layer": [
    {"mark": {"type": "line", "stroke": "#ff0000", "strokeWidth": 0.7, "opacity": 0.75, "clip": true},
     "encoding": {
       "x": {"field": "x", "type": "quantitative", "scale": {"domain": [0, 700], "nice": false}, "axis": {"values": [0,100,200,300,400,500,600,700], "title": "samples", "labelPadding": 11, "titlePadding": 6, "labelFlush": false}},
       "y": {"field": "y", "type": "quantitative", "scale": {"type": "log", "domain": [0.0005, 1], "nice": false}, "axis": {"values": [0.0005,0.0006,0.0007,0.0008,0.0009,0.001,0.002,0.003,0.004,0.005,0.006,0.007,0.008,0.009,0.01,0.02,0.03,0.04,0.05,0.06,0.07,0.08,0.09,0.1,0.2,0.3,0.4,0.5,0.6,0.7,0.8,0.9,1], "labelExpr": "datum.value == 1 ? '10⁰' : datum.value == 0.1 ? '10⁻¹' : datum.value == 0.01 ? '10⁻²' : datum.value == 0.001 ? '10⁻³' : ''", "title": "Root Relative Square Error", "labelPadding": 7, "titlePadding": 12}},
       "detail": {"field": "r"},
       "order": {"value": null}
     }},
    {"mark": {"type": "point", "shape": "M-1,0L1,0M0,-1L0,1", "size": 22, "filled": false, "stroke": "#e00000", "strokeWidth": 1.2, "opacity": 0.9, "clip": true},
     "encoding": {
       "x": {"field": "x", "type": "quantitative", "axis": {"orient": "top", "values": [0,100,200,300,400,500,600,700], "labels": false, "title": null}},
       "y": {"field": "y", "type": "quantitative", "axis": {"orient": "right", "values": [0.0005,0.0006,0.0007,0.0008,0.0009,0.001,0.002,0.003,0.004,0.005,0.006,0.007,0.008,0.009,0.01,0.02,0.03,0.04,0.05,0.06,0.07,0.08,0.09,0.1,0.2,0.3,0.4,0.5,0.6,0.7,0.8,0.9,1], "labels": false, "title": null}}
     }}
  ],
  "resolve": {"axis": {"x": "independent", "y": "independent"}}
},
{
  "width": 327, "height": 450,
  "title": {"text": "(b)  Model  Error", "orient": "bottom", "anchor": "middle", "frame": "bounds", "offset": 20},
  "data": {"name": "b"},
  "layer": [
    {"mark": {"type": "line", "stroke": "#ff0000", "strokeWidth": 0.7, "opacity": 0.75, "clip": true},
     "encoding": {
       "x": {"field": "x", "type": "quantitative", "scale": {"domain": [0, 700], "nice": false}, "axis": {"values": [0,100,200,300,400,500,600,700], "title": "samples", "labelPadding": 11, "titlePadding": 6, "labelFlush": false}},
       "y": {"field": "y", "type": "quantitative", "scale": {"type": "log", "domain": [0.0005, 1], "nice": false}, "axis": {"values": [0.0005,0.0006,0.0007,0.0008,0.0009,0.001,0.002,0.003,0.004,0.005,0.006,0.007,0.008,0.009,0.01,0.02,0.03,0.04,0.05,0.06,0.07,0.08,0.09,0.1,0.2,0.3,0.4,0.5,0.6,0.7,0.8,0.9,1], "labelExpr": "datum.value == 1 ? '10⁰' : datum.value == 0.1 ? '10⁻¹' : datum.value == 0.01 ? '10⁻²' : datum.value == 0.001 ? '10⁻³' : ''", "title": null, "labelPadding": 7}},
       "detail": {"field": "r"},
       "order": {"value": null}
     }},
    {"mark": {"type": "point", "shape": "M-1,0L1,0M0,-1L0,1", "size": 22, "filled": false, "stroke": "#e00000", "strokeWidth": 1.2, "opacity": 0.9, "clip": true},
     "encoding": {
       "x": {"field": "x", "type": "quantitative", "axis": {"orient": "top", "values": [0,100,200,300,400,500,600,700], "labels": false, "title": null}},
       "y": {"field": "y", "type": "quantitative", "axis": {"orient": "right", "values": [0.0005,0.0006,0.0007,0.0008,0.0009,0.001,0.002,0.003,0.004,0.005,0.006,0.007,0.008,0.009,0.01,0.02,0.03,0.04,0.05,0.06,0.07,0.08,0.09,0.1,0.2,0.3,0.4,0.5,0.6,0.7,0.8,0.9,1], "labels": false, "title": null}}
     }}
  ],
  "resolve": {"axis": {"x": "independent", "y": "independent"}}
},
{
  "width": 327, "height": 450,
  "title": {"text": "(c)  Voronoi", "orient": "bottom", "anchor": "middle", "frame": "bounds", "offset": 20},
  "data": {"name": "c"},
  "layer": [
    {"mark": {"type": "line", "stroke": "#ff0000", "strokeWidth": 0.7, "opacity": 0.75, "clip": true},
     "encoding": {
       "x": {"field": "x", "type": "quantitative", "scale": {"domain": [0, 700], "nice": false}, "axis": {"values": [0,100,200,300,400,500,600,700], "title": "samples", "labelPadding": 11, "titlePadding": 6, "labelFlush": false}},
       "y": {"field": "y", "type": "quantitative", "scale": {"type": "log", "domain": [0.0005, 1], "nice": false}, "axis": {"values": [0.0005,0.0006,0.0007,0.0008,0.0009,0.001,0.002,0.003,0.004,0.005,0.006,0.007,0.008,0.009,0.01,0.02,0.03,0.04,0.05,0.06,0.07,0.08,0.09,0.1,0.2,0.3,0.4,0.5,0.6,0.7,0.8,0.9,1], "labelExpr": "datum.value == 1 ? '10⁰' : datum.value == 0.1 ? '10⁻¹' : datum.value == 0.01 ? '10⁻²' : datum.value == 0.001 ? '10⁻³' : ''", "title": null, "labelPadding": 7}},
       "detail": {"field": "r"},
       "order": {"value": null}
     }},
    {"mark": {"type": "point", "shape": "M-1,0L1,0M0,-1L0,1", "size": 22, "filled": false, "stroke": "#e00000", "strokeWidth": 1.2, "opacity": 0.9, "clip": true},
     "encoding": {
       "x": {"field": "x", "type": "quantitative", "axis": {"orient": "top", "values": [0,100,200,300,400,500,600,700], "labels": false, "title": null}},
       "y": {"field": "y", "type": "quantitative", "axis": {"orient": "right", "values": [0.0005,0.0006,0.0007,0.0008,0.0009,0.001,0.002,0.003,0.004,0.005,0.006,0.007,0.008,0.009,0.01,0.02,0.03,0.04,0.05,0.06,0.07,0.08,0.09,0.1,0.2,0.3,0.4,0.5,0.6,0.7,0.8,0.9,1], "labels": false, "title": null}}
     }}
  ],
  "resolve": {"axis": {"x": "independent", "y": "independent"}}
}
]
}
